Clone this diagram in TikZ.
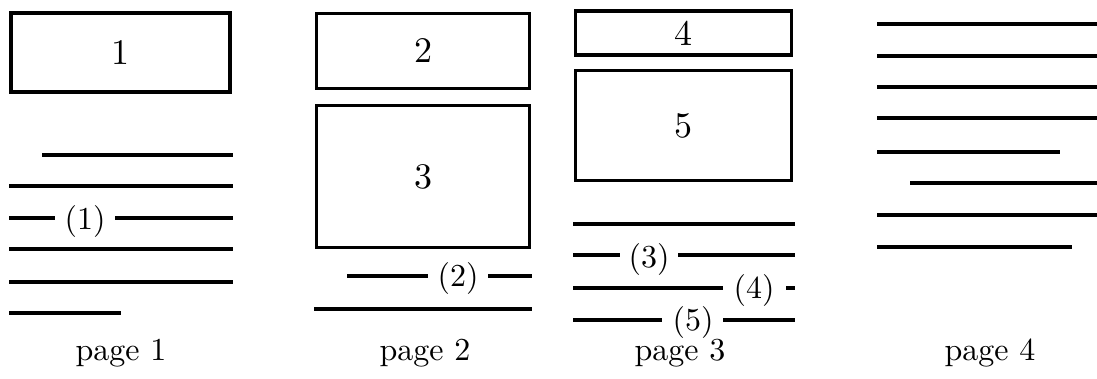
\documentclass[tikz,border=0pt]{standalone}
\newcommand\scaledtext[2]{\scalebox{#1}{\fontsize{10}{12}\selectfont #2}}
\begin{document}
\begin{tikzpicture}[x=1pt,y=-1pt,
  pagebox/.style={draw,line width=3.8pt,inner sep=0pt},
  txt/.style={line width=4.2pt},
  lbl/.style={inner sep=0pt},
  pagecaption/.style={inner sep=0pt,anchor=base}]
\useasboundingbox (0,0) rectangle (1097,378);
% ---- page 1
\node[pagebox,minimum width=219pt,minimum height=79pt] (b1) at (120.5,52.5) {\scaledtext{3.6}{1}};
\draw[txt] (42,155) -- (233,155);
\draw[txt] (9,186) -- (233,186);
\node[lbl] (n1) at (85,221) {\scaledtext{3.2}{(1)}};
\draw[txt] (9,218) -- (55,218);
\draw[txt] (115,218) -- (233,218);
\draw[txt] (9,249) -- (233,249);
\draw[txt] (9,282) -- (233,282);
\draw[txt] (9,313) -- (121,313);
\node[pagecaption] (p1) at (121,360) {\scaledtext{3.2}{page 1}};
% ---- page 2
\node[pagebox,minimum width=213pt,minimum height=75pt] (b2) at (423,51) {\scaledtext{3.6}{2}};
\node[pagebox,minimum width=213pt,minimum height=142pt] (b3) at (423,176.5) {\scaledtext{3.6}{3}};
\node[lbl] (n2) at (458,278) {\scaledtext{3.2}{(2)}};
\draw[txt] (347,276) -- (428,276);
\draw[txt] (488,276) -- (532,276);
\draw[txt] (314,309) -- (532,309);
\node[pagecaption] (p2) at (425,360) {\scaledtext{3.2}{page 2}};
% ---- page 3
\node[pagebox,minimum width=216pt,minimum height=44pt] (b4) at (683.5,33) {\scaledtext{3.6}{4}};
\node[pagebox,minimum width=216pt,minimum height=110pt] (b5) at (683.5,125.5) {\scaledtext{3.6}{5}};
\draw[txt] (573,224) -- (795,224);
\node[lbl] (n3) at (649,259) {\scaledtext{3.2}{(3)}};
\draw[txt] (573,255) -- (620,255);
\draw[txt] (678,255) -- (795,255);
\node[lbl] (n4) at (754,290) {\scaledtext{3.2}{(4)}};
\draw[txt] (573,288) -- (723,288);
\draw[txt] (786,288) -- (795,288);
\node[lbl] (n5) at (693,322) {\scaledtext{3.2}{(5)}};
\draw[txt] (573,320) -- (662,320);
\draw[txt] (723,320) -- (795,320);
\node[pagecaption] (p3) at (680,360) {\scaledtext{3.2}{page 3}};
% ---- page 4
\draw[txt] (877,24) -- (1097,24);
\draw[txt] (877,56) -- (1097,56);
\draw[txt] (877,87) -- (1097,87);
\draw[txt] (877,118) -- (1097,118);
\draw[txt] (877,152) -- (1060,152);
\draw[txt] (910,183) -- (1097,183);
\draw[txt] (877,215) -- (1097,215);
\draw[txt] (877,247) -- (1072,247);
\node[pagecaption] (p4) at (990,360) {\scaledtext{3.2}{page 4}};
\end{tikzpicture}
\end{document}
